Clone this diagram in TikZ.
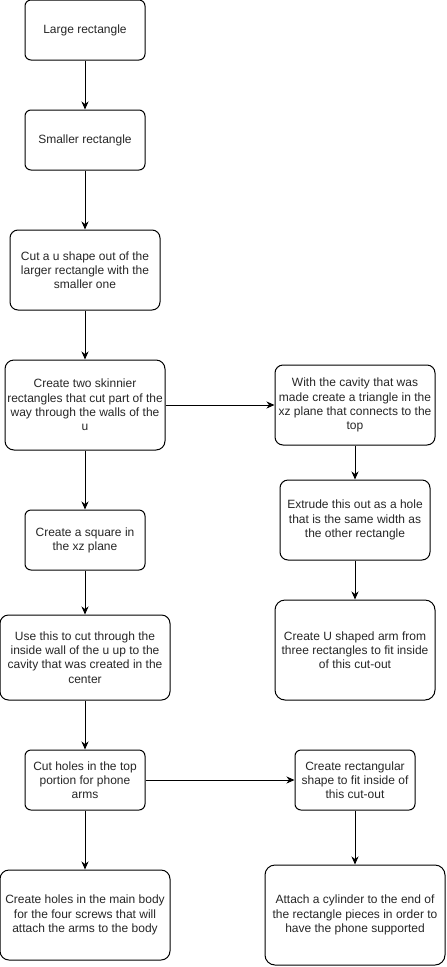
\documentclass[tikz,border=0pt]{standalone}
\usepackage{fontspec}
\setmainfont{Liberation Sans}
\usetikzlibrary{arrows.meta}
\begin{document}
\begin{tikzpicture}[x=1pt,y=-1pt,
  box/.style={draw, line width=1pt, rounded corners=#1, align=center,
    font=\fontsize{12}{14.2}\selectfont, inner sep=0pt, text=black!85},
  box/.default=6pt,
  flow/.style={line width=1pt, -{Stealth[length=8pt,width=7pt,inset=2.5pt]}}]
\useasboundingbox (0,0) rectangle (447,967);
\node[box, minimum width=120pt, minimum height=60pt] (n1) at (85,30) {Large rectangle};
\node[box, minimum width=120pt, minimum height=60pt] (n2) at (85,140) {Smaller rectangle};
\node[box=8pt, minimum width=150pt, minimum height=80pt] (n3) at (85,270) {Cut a u shape out of the\\larger rectangle with the\\smaller one};
\node[box=9pt, minimum width=160pt, minimum height=90pt] (n4) at (85,405) {Create two skinnier\\rectangles that cut part of the\\way through the walls of the\\u};
\node[box=8pt, minimum width=160pt, minimum height=80pt] (n5) at (355,405) {With the cavity that was\\made create a triangle in the\\xz plane that connects to the\\top};
\node[box, minimum width=120pt, minimum height=60pt] (n6) at (85,540) {Create a square in\\the xz plane};
\node[box=8pt, minimum width=150pt, minimum height=80pt] (n7) at (355,520) {Extrude this out as a hole\\that is the same width as\\the other rectangle};
\node[box=8.5pt, minimum width=170pt, minimum height=85pt] (n8) at (85,657.5) {Use this to cut through the\\inside wall of the u up to the\\cavity that was created in the\\center};
\node[box=10pt, minimum width=160pt, minimum height=100pt] (n9) at (355,650) {Create U shaped arm from\\three rectangles to fit inside\\of this cut-out};
\node[box, minimum width=120pt, minimum height=60pt] (n10) at (85,780) {Cut holes in the top\\portion for phone\\arms};
\node[box, minimum width=120pt, minimum height=60pt] (n11) at (355,780) {Create rectangular\\shape to fit inside of\\this cut-out};
\node[box=9pt, minimum width=170pt, minimum height=90pt] (n12) at (85,915) {Create holes in the main body\\for the four screws that will\\attach the arms to the body};
\node[box=10pt, minimum width=180pt, minimum height=100pt] (n13) at (355,915) {Attach a cylinder to the end of\\the rectangle pieces in order to\\have the phone supported};
\draw[flow] (n1) -- (n2);
\draw[flow] (n2) -- (n3);
\draw[flow] (n3) -- (n4);
\draw[flow] (n4) -- (n5);
\draw[flow] (n4) -- (n6);
\draw[flow] (n6) -- (n8);
\draw[flow] (n8) -- (n10);
\draw[flow] (n10) -- (n12);
\draw[flow] (n5) -- (n7);
\draw[flow] (n7) -- (n9);
\draw[flow] (n10) -- (n11);
\draw[flow] (n11) -- (n13);
\end{tikzpicture}
\end{document}
